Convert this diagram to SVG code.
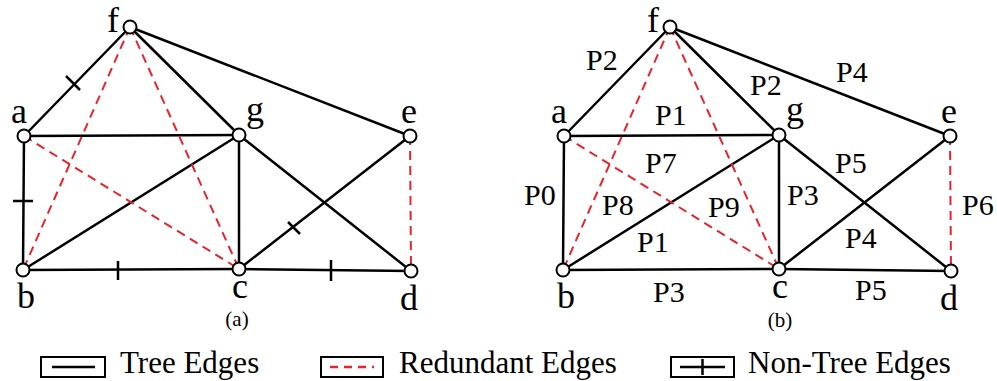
<svg xmlns="http://www.w3.org/2000/svg" width="997" height="381" viewBox="0 0 997 381">
<style>
.e{stroke:#000;stroke-width:2.5;fill:none;stroke-linecap:round}
.r{stroke:#e8232a;stroke-width:2;fill:none;stroke-dasharray:9,6}
.t{stroke:#000;stroke-width:2.5;fill:none}
.n{fill:#fff;stroke:#000;stroke-width:2}
.l{font-family:"Liberation Serif","Times New Roman",serif;font-size:36px;fill:#000;text-anchor:middle}
.p{font-family:"Liberation Serif","Times New Roman",serif;font-size:30px;fill:#000}
.c{font-family:"Liberation Serif","Times New Roman",serif;font-size:21px;fill:#000;text-anchor:middle}
.g{font-family:"Liberation Serif","Times New Roman",serif;font-size:31px;fill:#000}
.b{fill:#fff;stroke:#000;stroke-width:2}
</style>
<defs>
<g id="edges">
<line class="e" x1="130" y1="27" x2="24" y2="136"/>
<line class="e" x1="24" y1="136" x2="239" y2="135"/>
<line class="e" x1="130" y1="27" x2="239" y2="135"/>
<line class="e" x1="130" y1="27" x2="410" y2="136"/>
<line class="e" x1="24" y1="136" x2="23" y2="270"/>
<line class="e" x1="23" y1="270" x2="239" y2="135"/>
<line class="e" x1="239" y1="135" x2="239" y2="269"/>
<line class="e" x1="239" y1="135" x2="411" y2="271"/>
<line class="e" x1="239" y1="269" x2="410" y2="136"/>
<line class="e" x1="23" y1="270" x2="239" y2="269"/>
<line class="e" x1="239" y1="269" x2="411" y2="271"/>
<line class="r" x1="130" y1="27" x2="23" y2="270"/>
<line class="r" x1="130" y1="27" x2="239" y2="269"/>
<line class="r" x1="24" y1="136" x2="239" y2="269"/>
<line class="r" x1="410" y1="136" x2="411" y2="271"/>
</g>
</defs>
<g id="connectors">
<use href="#edges"/>
<use href="#edges" transform="translate(540,0)"/>
<g id="ticks">
<line class="t" x1="66" y1="76" x2="80" y2="90"/>
<line class="t" x1="13" y1="201" x2="33" y2="201"/>
<line class="t" x1="118" y1="261" x2="118" y2="280"/>
<line class="t" x1="331" y1="260" x2="331" y2="281"/>
<line class="t" x1="288" y1="222" x2="300" y2="234"/>
</g>
</g>
<g id="panel-a">
<g id="a-f"><circle class="n" cx="130" cy="27" r="6.5"/><text class="l" x="113" y="32">f</text></g>
<g id="a-a"><circle class="n" cx="24" cy="136" r="6.5"/><text class="l" x="19" y="123">a</text></g>
<g id="a-g"><circle class="n" cx="239" cy="135" r="6.5"/><text class="l" x="255" y="121">g</text></g>
<g id="a-e"><circle class="n" cx="410" cy="136" r="6.5"/><text class="l" x="409" y="123">e</text></g>
<g id="a-b"><circle class="n" cx="23" cy="270" r="6.5"/><text class="l" x="26" y="308">b</text></g>
<g id="a-c"><circle class="n" cx="239" cy="269" r="6.5"/><text class="l" x="240" y="298">c</text></g>
<g id="a-d"><circle class="n" cx="411" cy="271" r="6.5"/><text class="l" x="409" y="310">d</text></g>
<text class="c" x="237" y="326">(a)</text>
</g>
<g id="panel-b">
<g id="b-f"><circle class="n" cx="670" cy="27" r="6.5"/><text class="l" x="653" y="32">f</text></g>
<g id="b-a"><circle class="n" cx="564" cy="136" r="6.5"/><text class="l" x="559" y="123">a</text></g>
<g id="b-g"><circle class="n" cx="779" cy="135" r="6.5"/><text class="l" x="795" y="121">g</text></g>
<g id="b-e"><circle class="n" cx="950" cy="136" r="6.5"/><text class="l" x="949" y="123">e</text></g>
<g id="b-b"><circle class="n" cx="563" cy="270" r="6.5"/><text class="l" x="566" y="308">b</text></g>
<g id="b-c"><circle class="n" cx="779" cy="269" r="6.5"/><text class="l" x="780" y="298">c</text></g>
<g id="b-d"><circle class="n" cx="951" cy="271" r="6.5"/><text class="l" x="949" y="310">d</text></g>
<text class="c" x="780" y="327">(b)</text>
<g id="path-labels">
<text class="p" x="586" y="70">P2</text>
<text class="p" x="750" y="95">P2</text>
<text class="p" x="655" y="125">P1</text>
<text class="p" x="836" y="82">P4</text>
<text class="p" x="835" y="173">P5</text>
<text class="p" x="787" y="205">P3</text>
<text class="p" x="962" y="215">P6</text>
<text class="p" x="645" y="173">P7</text>
<text class="p" x="602" y="215">P8</text>
<text class="p" x="708" y="217">P9</text>
<text class="p" x="637" y="252">P1</text>
<text class="p" x="653" y="302">P3</text>
<text class="p" x="524" y="205">P0</text>
<text class="p" x="845" y="248">P4</text>
<text class="p" x="855" y="300">P5</text>
</g>
</g>
<g id="legend">
<rect class="b" x="41" y="357" width="64" height="20"/>
<line class="t" x1="52" y1="367" x2="95" y2="367"/>
<text class="g" x="120" y="373">Tree Edges</text>
<rect class="b" x="321" y="357" width="62" height="20"/>
<line x1="330" y1="367" x2="374" y2="367" stroke="#e8232a" stroke-width="2.5" stroke-dasharray="8,6"/>
<text class="g" x="399" y="373">Redundant Edges</text>
<rect class="b" x="671" y="357" width="63" height="20"/>
<line class="t" x1="680" y1="367" x2="725" y2="367"/>
<line class="t" x1="702.5" y1="359" x2="702.5" y2="375"/>
<text class="g" x="748" y="373">Non-Tree Edges</text>
</g>
</svg>
